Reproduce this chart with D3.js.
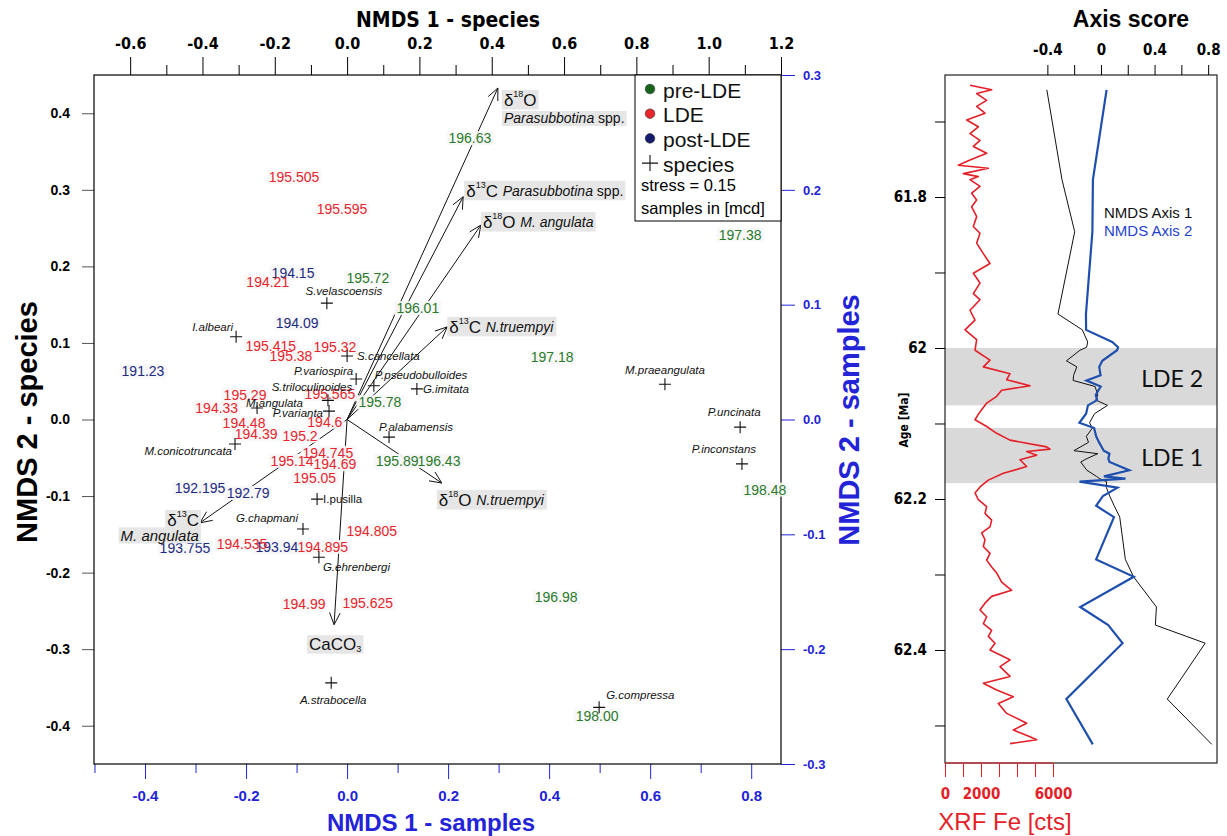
<!DOCTYPE html>
<html><head><meta charset="utf-8">
<script src="https://cdn.jsdelivr.net/npm/d3@7"></script>
<style>
body{margin:0;background:#fff}
svg{display:block;font-family:"Liberation Sans",Arial,sans-serif}
</style>
</head><body>
<svg id="chart" width="1227" height="836"></svg>
<script>
// ---------- samples: depth [mcd], NMDS scores (sample space), age [Ma] ----------
const postLDE = [
  {id:"191.23",  nmds1:-0.404, nmds2: 0.042, age:61.658},
  {id:"192.195", nmds1:-0.291, nmds2:-0.060, age:61.777},
  {id:"192.79",  nmds1:-0.196, nmds2:-0.064, age:61.846},
  {id:"193.755", nmds1:-0.321, nmds2:-0.112, age:61.955},
  {id:"193.94",  nmds1:-0.139, nmds2:-0.111, age:61.976},
  {id:"194.09",  nmds1:-0.099, nmds2: 0.084, age:61.992},
  {id:"194.15",  nmds1:-0.107, nmds2: 0.128, age:61.999}
];
const LDE = [
  {id:"194.21",  nmds1:-0.157, nmds2: 0.120, age:62.003},
  {id:"194.33",  nmds1:-0.258, nmds2: 0.010, age:62.017},
  {id:"194.39",  nmds1:-0.180, nmds2:-0.013, age:62.025},
  {id:"194.48",  nmds1:-0.204, nmds2:-0.003, age:62.036},
  {id:"194.535", nmds1:-0.208, nmds2:-0.108, age:62.043},
  {id:"194.6",   nmds1:-0.044, nmds2:-0.002, age:62.051},
  {id:"194.69",  nmds1:-0.024, nmds2:-0.039, age:62.062},
  {id:"194.745", nmds1:-0.038, nmds2:-0.029, age:62.069},
  {id:"194.805", nmds1: 0.049, nmds2:-0.097, age:62.076},
  {id:"194.895", nmds1:-0.048, nmds2:-0.111, age:62.087},
  {id:"194.99",  nmds1:-0.085, nmds2:-0.161, age:62.099},
  {id:"195.05",  nmds1:-0.064, nmds2:-0.051, age:62.106},
  {id:"195.14",  nmds1:-0.109, nmds2:-0.036, age:62.117},
  {id:"195.2",   nmds1:-0.093, nmds2:-0.014, age:62.125},
  {id:"195.29",  nmds1:-0.202, nmds2: 0.021, age:62.136},
  {id:"195.32",  nmds1:-0.024, nmds2: 0.063, age:62.140},
  {id:"195.38",  nmds1:-0.111, nmds2: 0.055, age:62.147},
  {id:"195.415", nmds1:-0.151, nmds2: 0.064, age:62.151},
  {id:"195.505", nmds1:-0.105, nmds2: 0.211, age:62.162},
  {id:"195.565", nmds1:-0.034, nmds2: 0.022, age:62.170},
  {id:"195.595", nmds1:-0.010, nmds2: 0.183, age:62.173},
  {id:"195.625", nmds1: 0.041, nmds2:-0.160, age:62.177}
];
const preLDE = [
  {id:"195.72",  nmds1: 0.041, nmds2: 0.123, age:62.185},
  {id:"195.78",  nmds1: 0.065, nmds2: 0.015, age:62.196},
  {id:"195.89",  nmds1: 0.099, nmds2:-0.036, age:62.209},
  {id:"196.01",  nmds1: 0.140, nmds2: 0.097, age:62.224},
  {id:"196.43",  nmds1: 0.182, nmds2:-0.036, age:62.280},
  {id:"196.63",  nmds1: 0.243, nmds2: 0.245, age:62.303},
  {id:"196.98",  nmds1: 0.414, nmds2:-0.155, age:62.343},
  {id:"197.18",  nmds1: 0.406, nmds2: 0.054, age:62.367},
  {id:"197.38",  nmds1: 0.778, nmds2: 0.161, age:62.391},
  {id:"198.00",  nmds1: 0.495, nmds2:-0.258, age:62.465},
  {id:"198.48",  nmds1: 0.827, nmds2:-0.061, age:62.525}
];

// ---------- species scores (species space) ----------
const species = [
  {name:"S.velascoensis",    x:-0.056, y: 0.152},
  {name:"I.albeari",         x:-0.307, y: 0.108},
  {name:"S.cancellata",      x: 0.000, y: 0.083},
  {name:"P.variospira",      x: 0.025, y: 0.053},
  {name:"P.pseudobulloides", x: 0.074, y: 0.044},
  {name:"S.triloculinoides", x:-0.053, y: 0.025},
  {name:"M.angulata",        x:-0.249, y: 0.015},
  {name:"P.varianta",        x:-0.050, y: 0.011},
  {name:"G.imitata",         x: 0.193, y: 0.040},
  {name:"P.alabamensis",     x: 0.116, y:-0.023},
  {name:"M.conicotruncata",  x:-0.310, y:-0.032},
  {name:"I.pusilla",         x:-0.083, y:-0.104},
  {name:"G.chapmani",        x:-0.122, y:-0.143},
  {name:"G.ehrenbergi",      x:-0.078, y:-0.180},
  {name:"A.strabocella",     x:-0.044, y:-0.344},
  {name:"G.compressa",       x: 0.697, y:-0.376},
  {name:"M.praeangulata",    x: 0.879, y: 0.046},
  {name:"P.uncinata",        x: 1.087, y:-0.010},
  {name:"P.inconstans",      x: 1.092, y:-0.058}
];

// ---------- fitted environmental vectors ----------
const vectors = [
  {name:"d18O Parasubbotina", x: 0.417, y: 0.433},
  {name:"d13C Parasubbotina", x: 0.321, y: 0.291},
  {name:"d18O M.angulata",    x: 0.370, y: 0.254},
  {name:"d13C N.truempyi",    x: 0.277, y: 0.121},
  {name:"d18O N.truempyi",    x: 0.262, y:-0.083},
  {name:"CaCO3",              x:-0.036, y:-0.268},
  {name:"d13C M.angulata",    x:-0.407, y:-0.135}
];

// ---------- XRF Fe counts vs age ----------
const xrfAge = [61.652,61.658,61.663,61.672,61.680,61.689,61.698,61.707,61.716,61.725,61.733,61.742,61.751,61.758,61.762,61.769,61.773,61.777,61.786,61.795,61.804,61.813,61.826,61.839,61.848,61.861,61.875,61.888,61.901,61.914,61.928,61.936,61.950,61.963,61.976,61.989,62.003,62.016,62.025,62.034,62.042,62.050,62.056,62.064,62.073,62.086,62.095,62.104,62.113,62.122,62.131,62.134,62.137,62.142,62.148,62.157,62.166,62.175,62.184,62.192,62.201,62.210,62.219,62.228,62.237,62.245,62.254,62.263,62.272,62.281,62.290,62.298,62.310,62.321,62.329,62.338,62.347,62.356,62.365,62.374,62.382,62.391,62.400,62.413,62.422,62.435,62.444,62.453,62.462,62.471,62.484,62.497,62.506,62.515,62.519,62.524];
const xrfFe  = [1389,2593,1759,2315,1759,2222,1204,1852,1389,1944,1574,2315,1389,741,2407,1019,1852,1389,1944,1481,1759,1481,1759,1574,1944,1759,2130,2500,1574,1944,1574,1944,1389,1667,1111,1759,1667,2500,2130,3611,3426,4722,3148,2870,2315,1900,1667,2315,2870,3611,5648,5833,4537,5093,4167,4537,3241,2407,1944,1667,1852,2315,2222,2593,2500,2037,2222,2130,2500,2315,2593,2870,3148,3704,2593,2222,1944,2315,2130,2593,2407,2778,2500,3611,3056,3611,2130,2870,3796,2963,3426,4537,3796,4722,5093,3611];

// ---------- tick labels / intervals ----------
const topTicks    = [-0.6,-0.4,-0.2,0,0.2,0.4,0.6,0.8,1.0,1.2];
const leftTicks   = [0.4,0.3,0.2,0.1,0,-0.1,-0.2,-0.3,-0.4];
const bottomTicks = [-0.4,-0.2,0,0.2,0.4,0.6,0.8];
const rightTicks  = [0.3,0.2,0.1,0,-0.1,-0.2,-0.3];
const scoreTicks  = [-0.4,-0.2,0,0.2,0.4,0.6,0.8];
const scoreLabels = [-0.4,0,0.4,0.8];
const ageTicks    = [61.7,61.8,61.9,62.0,62.1,62.2,62.3,62.4,62.5];
const ageLabels   = [61.8,62.0,62.2,62.4];
const xrfTicks    = [0,1000,2000,3000,4000,5000,6000];
const xrfLabels   = [0,2000,6000];
const events = [
  {name:"LDE 2", from:62.000, to:62.076},
  {name:"LDE 1", from:62.106, to:62.179}
];

// ---------- styling ----------
const C = {
  pre:"#2b7a2b", lde:"#e8252d", post:"#1d2a82",
  preDot:"#17651d", ldeDot:"#e8242c", postDot:"#141b6e",
  blue:"#2323d8", axisBlue:"#1f4fae", box:"#e6e6e6", band:"#d9d9d9", xrf:"#e41f28"
};
const NARROW = '"Liberation Sans Narrow","DejaVu Sans Condensed","Liberation Sans",Arial,sans-serif';
const SANS = '"Liberation Sans",Arial,sans-serif';

const svg = d3.select("#chart");
svg.append("rect").attr("width",1227).attr("height",836).attr("fill","#fff");

// ================= ordination biplot =================
const P = {l:94, r:781, t:75, b:764};
const spX = d3.scaleLinear([-0.7, 1.2], [P.l, P.r]);
const spY = d3.scaleLinear([-0.45, 0.45], [P.b, P.t]);
const saX = d3.scaleLinear([-0.501, 0.859], [P.l, P.r]);
const saY = d3.scaleLinear([-0.3, 0.3], [P.b, P.t]);

function styleAxis(g, color, font, size, weight){
  g.select(".domain").remove();
  g.selectAll(".tick line").attr("stroke", color);
  g.selectAll(".tick text").attr("fill", color).attr("font-family", font)
    .attr("font-size", size).attr("font-weight", weight);
}
const fmt1 = d => (Math.abs(d) < 1e-9 ? 0 : d).toFixed(1);

// top axis: species NMDS1
const minorTop = d3.range(-6, 12, 2).map(i => (i + 1) / 10);
svg.append("g").attr("transform",`translate(0,${P.t})`)
  .call(d3.axisTop(spX).tickValues(minorTop).tickSize(10).tickFormat(""))
  .call(g => styleAxis(g,"#000",NARROW,15,"bold"));
svg.append("g").attr("transform",`translate(0,${P.t})`)
  .call(d3.axisTop(spX).tickValues(topTicks).tickSize(18).tickPadding(8).tickFormat(fmt1))
  .call(g => styleAxis(g,"#000",NARROW,16,"bold"));

// left axis: species NMDS2
svg.append("g").attr("transform",`translate(${P.l},0)`)
  .call(d3.axisLeft(spY).tickValues(leftTicks).tickSize(12).tickPadding(12).tickFormat(fmt1))
  .call(g => styleAxis(g,"#555",SANS,14,"bold"))
  .call(g => g.selectAll(".tick text").attr("fill","#000"));

// bottom axis: samples NMDS1
const minorBottom = [-0.5,-0.3,-0.1,0.1,0.3,0.5,0.7];
svg.append("g").attr("transform",`translate(0,${P.b})`)
  .call(d3.axisBottom(saX).tickValues(minorBottom).tickSize(9).tickFormat(""))
  .call(g => styleAxis(g,C.blue,SANS,14,"bold"));
svg.append("g").attr("transform",`translate(0,${P.b})`)
  .call(d3.axisBottom(saX).tickValues(bottomTicks).tickSize(15).tickPadding(11).tickFormat(fmt1))
  .call(g => styleAxis(g,C.blue,SANS,15,"bold"));

// right axis: samples NMDS2
svg.append("g").attr("transform",`translate(${P.r},0)`)
  .call(d3.axisRight(saY).tickValues(rightTicks).tickSize(14).tickPadding(8).tickFormat(fmt1))
  .call(g => styleAxis(g,C.blue,SANS,13,"bold"));

// frame
svg.append("rect").attr("x",P.l).attr("y",P.t).attr("width",P.r-P.l).attr("height",P.b-P.t)
  .attr("fill","none").attr("stroke","#000").attr("stroke-width",1.2);

// axis titles
svg.append("text").attr("x",448).attr("y",27).attr("text-anchor","middle")
  .attr("font-family",NARROW).attr("font-weight","bold").attr("font-size",21).text("NMDS 1 - species");
svg.append("text").attr("x",431).attr("y",831).attr("text-anchor","middle")
  .attr("font-family",SANS).attr("font-weight","bold").attr("font-size",24).attr("fill",C.blue).text("NMDS 1 - samples");
svg.append("text").attr("transform","translate(37,422) rotate(-90)").attr("text-anchor","middle")
  .attr("font-family",SANS).attr("font-weight","bold").attr("font-size",29).text("NMDS 2 - species");
svg.append("text").attr("transform","translate(859,420) rotate(-90)").attr("text-anchor","middle")
  .attr("font-family",SANS).attr("font-weight","bold").attr("font-size",29).attr("fill",C.blue).text("NMDS 2 - samples");

// ----- vectors -----
const gVec = svg.append("g").attr("stroke","#111").attr("stroke-width",1).attr("fill","none");
const ox = spX(0), oy = spY(0);
vectors.forEach(v => {
  const tx = spX(v.x), ty = spY(v.y);
  gVec.append("line").attr("x1",ox).attr("y1",oy).attr("x2",tx).attr("y2",ty);
  const a = Math.atan2(ty - oy, tx - ox), L = 13, h = 0.42;
  [a + Math.PI - h, a + Math.PI + h].forEach(b => {
    gVec.append("line").attr("x1",tx).attr("y1",ty)
      .attr("x2",tx + L*Math.cos(b)).attr("y2",ty + L*Math.sin(b));
  });
});

// ----- sample labels (text placed at sample scores) -----
const groups = [
  {rows:postLDE, color:C.post},
  {rows:LDE, color:C.lde},
  {rows:preLDE, color:C.pre}
];
const gSamBg = svg.append("g");
const gSam = svg.append("g");
groups.forEach(gr => {
  gr.rows.forEach(s => {
    const t = gSam.append("text").attr("x",saX(s.nmds1)).attr("y",saY(s.nmds2))
      .attr("text-anchor","middle").attr("dominant-baseline","central")
      .attr("font-family",SANS).attr("font-size",14).attr("fill",gr.color).text(s.id);
    const bb = t.node().getBBox();
    gSamBg.append("rect").attr("x",bb.x-2).attr("y",bb.y+1).attr("width",bb.width+4).attr("height",bb.height-2)
      .attr("fill","#f7f7f7").attr("opacity",0.92);
  });
});

// ----- species crosses and names -----
const speciesLabelLayout = {
  "S.velascoensis":["middle",17,-12], "I.albeari":["end",-3,-10], "S.cancellata":["start",10,0],
  "P.variospira":["end",-3,-8], "P.pseudobulloides":["start",1,-11], "S.triloculinoides":["middle",-16,-13],
  "M.angulata":["start",-11,-5], "P.varianta":["end",-6,2], "G.imitata":["start",6,0],
  "P.alabamensis":["start",-10,-10], "M.conicotruncata":["end",-3,7], "I.pusilla":["start",6,0],
  "G.chapmani":["end",-5,-11], "G.ehrenbergi":["start",4,10], "A.strabocella":["middle",2,17],
  "G.compressa":["start",7,-12], "M.praeangulata":["middle",0,-14], "P.uncinata":["middle",-6,-15],
  "P.inconstans":["middle",-18,-15]
};
const gSp = svg.append("g");
species.forEach(s => {
  const x = spX(s.x), y = spY(s.y), r = 6;
  gSp.append("path").attr("d",`M${x-r},${y}H${x+r}M${x},${y-r}V${y+r}`)
    .attr("stroke","#111").attr("stroke-width",1.1);
  const [anc, dx, dy] = speciesLabelLayout[s.name];
  gSp.append("text").attr("x",x+dx).attr("y",y+dy).attr("text-anchor",anc)
    .attr("dominant-baseline","central").attr("font-family",SANS).attr("font-size",11.5)
    .attr("font-style", s.name === "I.pusilla" ? "normal" : "italic").attr("fill","#111").text(s.name);
});

// ----- vector labels with grey boxes -----
// each line: list of [text, kind] where kind: n normal, i italic, sup superscript, sub subscript
const vectorLabelLayout = {
  "d18O Parasubbotina": {dx:6, dy:12, anchor:"start",
     lines:[[["δ","n"],["18","sup"],["O","n"]],[["Parasubbotina","i"],[" spp.","n"]]], lh:18},
  "d13C Parasubbotina": {dx:3, dy:-6, anchor:"start",
     lines:[[["δ","n"],["13","sup"],["C ","n"],["Parasubbotina","i"],[" spp.","n"]]]},
  "d18O M.angulata": {dx:2, dy:-3, anchor:"start",
     lines:[[["δ","n"],["18","sup"],["O ","n"],["M. angulata","i"]]]},
  "d13C N.truempyi": {dx:2, dy:0, anchor:"start",
     lines:[[["δ","n"],["13","sup"],["C ","n"],["N.truempyi","i"]]]},
  "d18O N.truempyi": {dx:-3, dy:17, anchor:"start",
     lines:[[["δ","n"],["18","sup"],["O ","n"],["N.truempyi","i"]]]},
  "CaCO3": {dx:-25, dy:19, anchor:"start",
     lines:[[["CaCO","n"],["3","sub"]]]},
  "d13C M.angulata": {dx:-1, dy:-3, anchor:"end",
     lines:[[["δ","n"],["13","sup"],["C","n"]],[["M. angulata","i"]]], lh:15}
};
const gLab = svg.append("g");
vectors.forEach(v => {
  const lay = vectorLabelLayout[v.name];
  const tx = spX(v.x) + lay.dx, ty = spY(v.y) + lay.dy;
  const g = gLab.append("g");
  lay.lines.forEach((line, li) => {
    const t = g.append("text").attr("x",tx).attr("y",ty + li*(lay.lh||0))
      .attr("text-anchor",lay.anchor).attr("dominant-baseline","central")
      .attr("font-family",SANS).attr("fill","#111");
    let shift = 0;
    line.forEach(([str, kind]) => {
      const ts = t.append("tspan").text(str);
      if (kind === "sup") { ts.attr("font-size",9).attr("dy",-6 - shift); shift = -6; }
      else if (kind === "sub") { ts.attr("font-size",9).attr("dy",5 - shift); shift = 5; }
      else {
        ts.attr("font-size", kind === "i" ? 14 : (str.startsWith(" spp") ? 14 : 17));
        if (kind === "i") ts.attr("font-style","italic");
        if (shift !== 0) { ts.attr("dy",-shift); shift = 0; }
      }
    });
    if (li === 1 && v.name === "d13C M.angulata") t.selectAll("tspan").attr("font-size",15);
    if (li === 1 && v.name === "d18O Parasubbotina") t.selectAll("tspan").attr("font-size",14);
  });
  g.selectAll("text").each(function(){
    const bb = this.getBBox();
    g.insert("rect","text").attr("x",bb.x-2).attr("y",bb.y+1).attr("width",bb.width+4).attr("height",bb.height-1)
      .attr("fill",C.box);
  });
});

// ----- legend -----
const lg = svg.append("g");
lg.append("rect").attr("x",635).attr("y",P.t).attr("width",P.r-635).attr("height",146)
  .attr("fill","#fff").attr("stroke","#000").attr("stroke-width",1);
const legendEntries = [
  {label:"pre-LDE", fill:C.preDot},
  {label:"LDE", fill:C.ldeDot},
  {label:"post-LDE", fill:C.postDot},
  {label:"species", fill:null}
];
legendEntries.forEach((e, i) => {
  const y = 89 + i*24.7;
  if (e.fill) lg.append("circle").attr("cx",650).attr("cy",y).attr("r",4.8)
    .attr("fill",e.fill).attr("stroke","#333").attr("stroke-width",0.6);
  else lg.append("path").attr("d",`M${642},${y}H${658}M${650},${y-8}V${y+8}`).attr("stroke","#111").attr("stroke-width",1.1);
  lg.append("text").attr("x",663).attr("y",y+1).attr("dominant-baseline","central")
    .attr("font-family",SANS).attr("font-size",21).attr("fill","#111").text(e.label);
});
lg.append("text").attr("x",641).attr("y",185).attr("dominant-baseline","central")
  .attr("font-family",SANS).attr("font-size",16.5).text("stress = 0.15");
lg.append("text").attr("x",641).attr("y",208).attr("dominant-baseline","central")
  .attr("font-family",SANS).attr("font-size",16.5).text("samples in [mcd]");

// ================= downcore panel =================
const Q = {l:945, r:1217, t:75, b:763};
const ageY = d3.scaleLinear([61.6384, 62.5497], [Q.t, Q.b]);
const scoreX = d3.scaleLinear([-1.164, 0.866], [Q.l, Q.r]);
const xrfX = d3.scaleLinear([0, 6000], [Q.l, Q.l + 108]);

// event bands
events.forEach(e => {
  svg.append("rect").attr("x",Q.l).attr("y",ageY(e.from)).attr("width",Q.r-Q.l)
    .attr("height",ageY(e.to)-ageY(e.from)).attr("fill",C.band);
  svg.append("text").attr("x",1203).attr("y",(ageY(e.from)+ageY(e.to))/2+1).attr("text-anchor","end")
    .attr("dominant-baseline","central").attr("font-family",'Lato,"Open Sans",sans-serif')
    .attr("font-size",23).attr("fill","#111").text(e.name);
});

// XRF Fe
const xrfData = xrfAge.map((a, i) => [a, xrfFe[i]]);
svg.append("path").datum(xrfData)
  .attr("d", d3.line().x(d => xrfX(d[1])).y(d => ageY(d[0])))
  .attr("fill","none").attr("stroke",C.xrf).attr("stroke-width",1.6).attr("stroke-linejoin","round");

// NMDS axis scores through time
const allSamples = postLDE.concat(LDE, preLDE).slice().sort((a,b) => a.age - b.age);
svg.append("path").datum(allSamples)
  .attr("d", d3.line().x(d => scoreX(d.nmds1)).y(d => ageY(d.age)))
  .attr("fill","none").attr("stroke","#111").attr("stroke-width",1);
svg.append("path").datum(allSamples)
  .attr("d", d3.line().x(d => scoreX(d.nmds2)).y(d => ageY(d.age)))
  .attr("fill","none").attr("stroke",C.axisBlue).attr("stroke-width",2.2);

// frame
svg.append("rect").attr("x",Q.l).attr("y",Q.t).attr("width",Q.r-Q.l).attr("height",Q.b-Q.t)
  .attr("fill","none").attr("stroke","#222").attr("stroke-width",1.2);

// score axis (top)
svg.append("g").attr("transform",`translate(0,${Q.t})`)
  .call(d3.axisTop(scoreX).tickValues(scoreTicks).tickSize(10).tickPadding(10)
    .tickFormat(d => scoreLabels.some(v => Math.abs(v-d) < 1e-9) ? (Math.abs(d)<1e-9 ? "0" : String(d)) : ""))
  .call(g => styleAxis(g,"#000",NARROW,15,"bold"));
svg.append("text").attr("x",1131).attr("y",27).attr("text-anchor","middle")
  .attr("font-family",SANS).attr("font-weight","bold").attr("font-size",23).text("Axis score");

// age axis (left)
svg.append("g").attr("transform",`translate(${Q.l},0)`)
  .call(d3.axisLeft(ageY).tickValues(ageTicks).tickSize(10).tickPadding(8)
    .tickFormat(d => ageLabels.some(v => Math.abs(v-d) < 1e-9) ? (Math.abs(d-62)<1e-9 ? "62" : d.toFixed(1)) : ""))
  .call(g => styleAxis(g,"#000",NARROW,15,"bold"));
svg.append("text").attr("transform","translate(908,420) rotate(-90)").attr("text-anchor","middle")
  .attr("font-family",NARROW).attr("font-weight","bold").attr("font-size",12).text("Age [Ma]");

// XRF axis (bottom)
svg.append("g").attr("transform",`translate(0,${Q.b})`)
  .call(d3.axisBottom(xrfX).tickValues(xrfTicks).tickSize(14).tickPadding(11)
    .tickFormat(d => xrfLabels.includes(d) ? String(d) : ""))
  .call(g => styleAxis(g,C.xrf,NARROW,15,"bold"))
  .call(g => g.append("line").attr("x1",Q.l).attr("x2",xrfX(6000)).attr("stroke",C.xrf).attr("stroke-width",1.2));
svg.append("text").attr("x",1005).attr("y",830).attr("text-anchor","middle")
  .attr("font-family",SANS).attr("font-size",24).attr("fill",C.xrf).text("XRF Fe [cts]");

// series key
svg.append("text").attr("x",1104).attr("y",212).attr("dominant-baseline","central")
  .attr("font-family",SANS).attr("font-size",15).attr("fill","#111").text("NMDS Axis 1");
svg.append("text").attr("x",1104).attr("y",230).attr("dominant-baseline","central")
  .attr("font-family",SANS).attr("font-size",15).attr("fill","#1f3fd0").text("NMDS Axis 2");
</script>
</body></html>
